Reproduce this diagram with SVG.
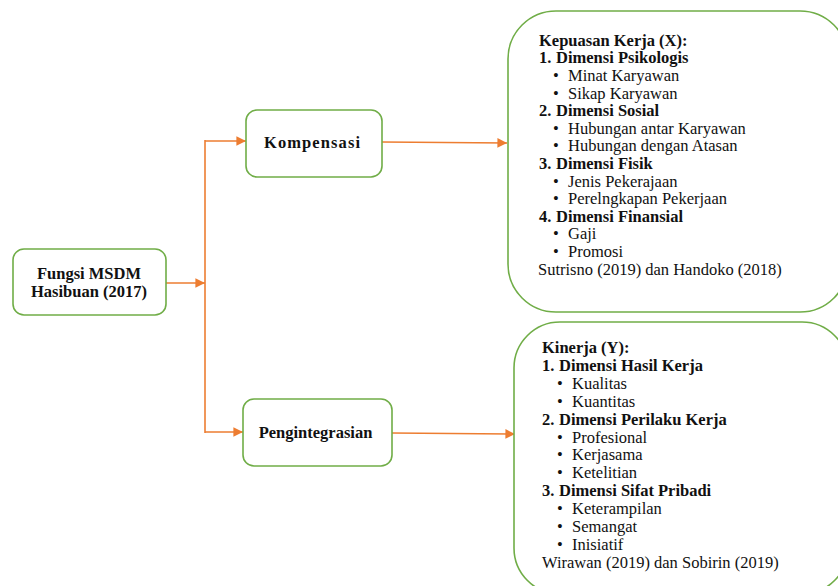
<svg xmlns="http://www.w3.org/2000/svg" width="838" height="586" viewBox="0 0 838 586">
<style>
.box{fill:#fff;stroke:#70ad47;stroke-width:1.6}
.ln{fill:none;stroke:#ed7d31;stroke-width:1.6}
text{font-family:"Liberation Serif","Times New Roman",serif;font-size:16.5px;fill:#111}
.b{font-weight:bold}
.c{text-anchor:middle}
</style>
<defs>
<marker id="ah" viewBox="0 0 10 10" refX="10" refY="5" markerWidth="6" markerHeight="6" markerUnits="strokeWidth" orient="auto">
<path d="M0,0 L10,5 L0,10 z" fill="#ed7d31"/>
</marker>
</defs>
<rect width="838" height="586" fill="#fff"/>
<g id="connectors">
<path class="ln" d="M166,283 L205,283" marker-end="url(#ah)"/>
<path class="ln" d="M205,140 L205,433"/>
<path class="ln" d="M205,141 L246,141" marker-end="url(#ah)"/>
<path class="ln" d="M205,432 L243,432" marker-end="url(#ah)"/>
<path class="ln" d="M382,142 L507,143" marker-end="url(#ah)"/>
<path class="ln" d="M392,433 L515,434" marker-end="url(#ah)"/>
</g>
<g id="fungsi">
<rect class="box" x="13" y="249" width="153" height="66" rx="11"/>
<text class="b c" x="89" y="279">Fungsi MSDM</text>
<text class="b c" x="89" y="297">Hasibuan (2017)</text>
</g>
<g id="kompensasi">
<rect class="box" x="246" y="110" width="136" height="67" rx="11"/>
<text class="b c" x="312" y="148" textLength="96">Kompensasi</text>
</g>
<g id="pengintegrasian">
<rect class="box" x="243" y="399" width="149" height="67" rx="11"/>
<text class="b c" x="315.5" y="438">Pengintegrasian</text>
</g>
<g id="kepuasan">
<rect class="box" x="508" y="11" width="340" height="301" rx="48"/>
<text class="b" x="539" y="45.8">Kepuasan Kerja (X):</text>
<text class="b" x="539" y="63.4">1.</text><text class="b" x="556" y="63.4">Dimensi Psikologis</text>
<text x="553" y="81">•</text><text x="568" y="81">Minat Karyawan</text>
<text x="553" y="98.6">•</text><text x="568" y="98.6">Sikap Karyawan</text>
<text class="b" x="539" y="116.2">2.</text><text class="b" x="556" y="116.2">Dimensi Sosial</text>
<text x="553" y="133.8">•</text><text x="568" y="133.8">Hubungan antar Karyawan</text>
<text x="553" y="151.4">•</text><text x="568" y="151.4">Hubungan dengan Atasan</text>
<text class="b" x="539" y="169">3.</text><text class="b" x="556" y="169">Dimensi Fisik</text>
<text x="553" y="186.6">•</text><text x="568" y="186.6">Jenis Pekerajaan</text>
<text x="553" y="204.2">•</text><text x="568" y="204.2">Perelngkapan Pekerjaan</text>
<text class="b" x="539" y="221.8">4.</text><text class="b" x="556" y="221.8">Dimensi Finansial</text>
<text x="553" y="239.4">•</text><text x="568" y="239.4">Gaji</text>
<text x="553" y="257">•</text><text x="568" y="257">Promosi</text>
<text x="538" y="274.6">Sutrisno (2019) dan Handoko (2018)</text>
</g>
<g id="kinerja">
<rect class="box" x="514" y="322" width="334" height="272" rx="46"/>
<text class="b" x="542" y="353">Kinerja (Y):</text>
<text class="b" x="542" y="370.9">1.</text><text class="b" x="559" y="370.9">Dimensi Hasil Kerja</text>
<text x="557" y="388.8">•</text><text x="572" y="388.8">Kualitas</text>
<text x="557" y="406.7">•</text><text x="572" y="406.7">Kuantitas</text>
<text class="b" x="542" y="424.6">2.</text><text class="b" x="559" y="424.6">Dimensi Perilaku Kerja</text>
<text x="557" y="442.5">•</text><text x="572" y="442.5">Profesional</text>
<text x="557" y="460.4">•</text><text x="572" y="460.4">Kerjasama</text>
<text x="557" y="478.3">•</text><text x="572" y="478.3">Ketelitian</text>
<text class="b" x="542" y="496.2">3.</text><text class="b" x="559" y="496.2">Dimensi Sifat Pribadi</text>
<text x="557" y="514.1">•</text><text x="572" y="514.1">Keterampilan</text>
<text x="557" y="532">•</text><text x="572" y="532">Semangat</text>
<text x="557" y="549.9">•</text><text x="572" y="549.9">Inisiatif</text>
<text x="542" y="567.8">Wirawan (2019) dan Sobirin (2019)</text>
</g>
</svg>
